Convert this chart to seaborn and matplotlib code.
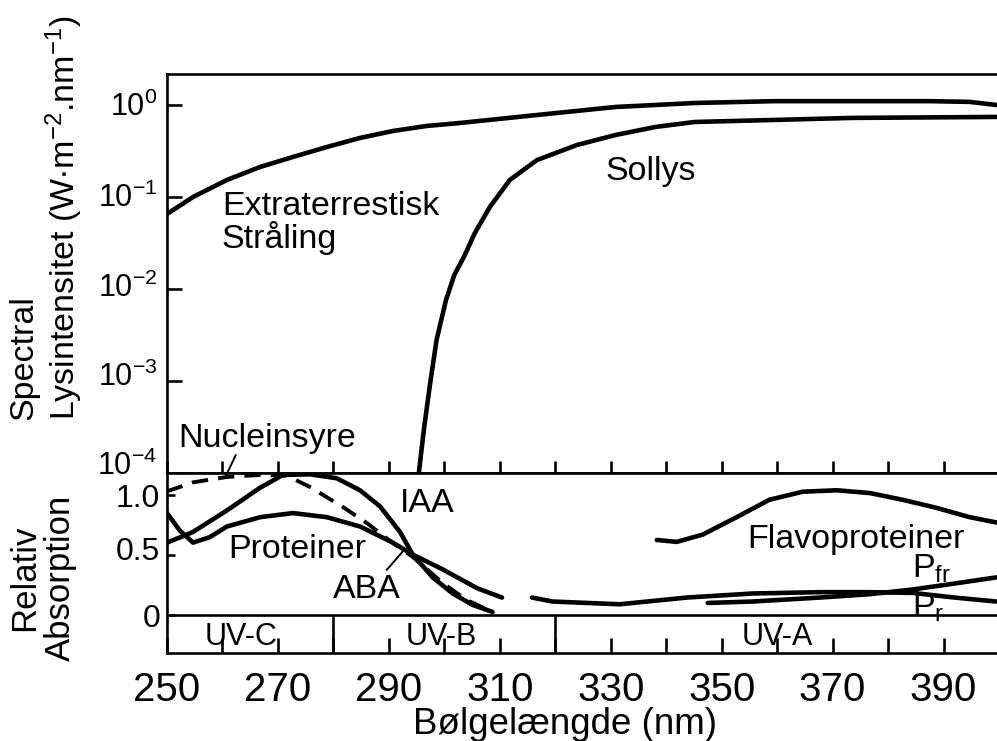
import math
import matplotlib
matplotlib.use("Agg")
import matplotlib.pyplot as plt
from matplotlib import font_manager
from matplotlib.ticker import FixedLocator, FuncFormatter, NullLocator
from matplotlib.transforms import ScaledTranslation
import seaborn as sns
import pandas as pd

# ---------------- data ----------------
EXTRA_NM = [250.0, 254.7, 260.8, 266.8, 272.7, 278.8, 284.8, 290.7, 296.8, 302.8,
            316.7, 330.9, 345.1, 359.4, 373.4, 387.5, 394.7, 399.5]
EXTRA_VAL = [0.0653, 0.100, 0.153, 0.212, 0.272, 0.349, 0.438, 0.521, 0.591, 0.637,
             0.778, 0.951, 1.05, 1.10, 1.10, 1.10, 1.08, 1.0]

SOL_NM = [295.4, 296.3, 297.4, 298.6, 300.3, 301.8, 303.7, 305.5, 308.2, 311.8,
          316.7, 323.9, 330.9, 338.1, 345.1, 359.4, 373.4, 399.5]
SOL_VAL = [1.0e-4, 2.93e-4, 9.05e-4, 2.79e-3, 7.6e-3, 0.0142, 0.0234, 0.0406, 0.0777, 0.153,
           0.252, 0.367, 0.472, 0.577, 0.653, 0.687, 0.723, 0.741]

NUC_NM = [250.0, 254.7, 260.8, 266.8, 271.6, 275.8, 281.7, 286.0, 290.7, 294.3, 299.7, 304.0, 308.7]
NUC_VAL = [1.03, 1.105, 1.15, 1.167, 1.161, 1.066, 0.90, 0.767, 0.60, 0.484, 0.267, 0.125, 0.025]

IAA_NM = [250.0, 253.6, 254.7, 260.8, 266.8, 270.9, 275.8, 280.6, 284.8, 288.4, 292.0,
          294.3, 297.9, 301.5, 305.1, 308.7]
IAA_VAL = [0.603, 0.67, 0.692, 0.871, 1.061, 1.167, 1.172, 1.139, 1.039, 0.905, 0.692,
           0.503, 0.313, 0.179, 0.084, 0.025]

PROT_NM = [250.0, 252.3, 254.7, 257.7, 260.8, 266.8, 272.7, 278.8, 284.8, 290.7,
           294.3, 299.7, 305.9, 310.4]
PROT_VAL = [0.849, 0.704, 0.603, 0.648, 0.737, 0.815, 0.849, 0.815, 0.737, 0.603,
            0.503, 0.38, 0.223, 0.145]

FLAVO_NM = [338.3, 341.9, 346.6, 352.7, 358.6, 364.6, 370.7, 376.7, 382.6, 388.7, 394.7, 399.5]
FLAVO_VAL = [0.625, 0.609, 0.67, 0.815, 0.96, 1.027, 1.039, 1.016, 0.96, 0.893, 0.815, 0.771]

PR_NM = [315.8, 319.5, 331.6, 343.7, 355.6, 367.7, 376.7, 384.4, 392.0, 399.5]
PR_VAL = [0.145, 0.112, 0.089, 0.145, 0.179, 0.19, 0.19, 0.184, 0.145, 0.112]

PFR_NM = [347.5, 355.6, 367.7, 376.7, 384.4, 392.0, 399.5]
PFR_VAL = [0.10, 0.112, 0.145, 0.173, 0.212, 0.262, 0.313]

BANDS = ["UV-C", "UV-B", "UV-A"]
BAND_CENTERS = [263.3, 299.4, 360.0]
BAND_EDGES = [280, 320]

LOG_TICKS = [1e-4, 1e-3, 1e-2, 1e-1, 1e0]
REL_TICKS = [0, 0.5, 1.0]
REL_LABELS = ["0", "0.5", "1.0"]
X_TICKS = list(range(250, 400, 10))
X_LABELED = list(range(250, 400, 20))

# ---------------- style ----------------
sns.set_theme(style="white")
K = "black"
plt.rcParams["font.family"] = ["Liberation Sans", "DejaVu Sans"]
plt.rcParams["mathtext.fontset"] = "custom"
plt.rcParams["mathtext.rm"] = "Liberation Sans"
plt.rcParams["mathtext.it"] = "Liberation Sans:italic"
plt.rcParams["mathtext.default"] = "regular"
plt.rcParams["axes.unicode_minus"] = True
for key in ("text.color", "axes.labelcolor", "xtick.color", "ytick.color", "axes.edgecolor"):
    plt.rcParams[key] = K

try:
    font_manager.findfont(font_manager.FontProperties(family="Liberation Sans Narrow"),
                          fallback_to_default=False)
    NARROW = ["Liberation Sans Narrow", "Liberation Sans"]
except Exception:
    NARROW = ["Liberation Sans"]

LW = 3.3
SPW = 1.9
YMIN_B, YMAX_B = -0.317, 1.183

fig = plt.figure(figsize=(9.97, 7.41), dpi=100)
W, H = 997.0, 741.0
ax_top = fig.add_axes([167 / W, 1 - 473 / H, 832 / W, 399 / H])
ax_bot = fig.add_axes([167 / W, 1 - 653 / H, 832 / W, 180 / H])

for ax in (ax_top, ax_bot):
    ax.set_facecolor("white")
    for s in ("left", "top", "bottom"):
        ax.spines[s].set_visible(True)
        ax.spines[s].set_color(K)
        ax.spines[s].set_linewidth(SPW)
    ax.spines["right"].set_visible(False)
    ax.set_xlim(250, 400)
    ax.grid(False)

# ---------------- top panel ----------------
ax_top.set_yscale("log")
ax_top.set_ylim(1e-4, 2.17)
df_e = pd.DataFrame({"nm": EXTRA_NM, "v": EXTRA_VAL})
df_s = pd.DataFrame({"nm": SOL_NM, "v": SOL_VAL})
sns.lineplot(data=df_e, x="nm", y="v", ax=ax_top, color=K, lw=LW, sort=False, estimator=None)
sns.lineplot(data=df_s, x="nm", y="v", ax=ax_top, color=K, lw=LW, sort=False, estimator=None)
ax_top.yaxis.set_major_locator(FixedLocator(LOG_TICKS))
ax_top.yaxis.set_minor_locator(NullLocator())
ax_top.yaxis.set_major_formatter(FuncFormatter(lambda v, p: r"$10^{%d}$" % round(math.log10(v))))
ax_top.xaxis.set_major_locator(FixedLocator(X_TICKS))
ax_top.xaxis.set_minor_locator(NullLocator())
ax_top.tick_params(axis="y", direction="in", length=11, width=SPW, labelsize=22, pad=7,
                   left=True, colors=K)
ax_top.tick_params(axis="x", direction="in", length=8.5, width=SPW, bottom=True,
                   labelbottom=False, colors=K)
ax_top.set_xlabel("")
ax_top.set_ylabel("")

tk = dict(color=K, fontsize=24.5)
ax_top.text(259.9, 0.0637, "Extraterrestisk", ha="left", va="baseline", **tk)
ax_top.text(259.9, 0.0279, "Stråling", ha="left", va="baseline", **tk)
ax_top.text(329.1, 0.153, "Sollys", ha="left", va="baseline", **tk)
ax_top.text(252.0, 1.92e-4, "Nucleinsyre", ha="left", va="baseline", **tk)

# ---------------- bottom panel ----------------
ax_bot.set_ylim(YMIN_B, YMAX_B)
series = [(NUC_NM, NUC_VAL, (0, (4.2, 2.6))), (IAA_NM, IAA_VAL, "-"), (PROT_NM, PROT_VAL, "-"),
          (FLAVO_NM, FLAVO_VAL, "-"), (PR_NM, PR_VAL, "-"), (PFR_NM, PFR_VAL, "-")]
for xs, ys, ls in series:
    d = pd.DataFrame({"nm": xs, "v": ys})
    sns.lineplot(data=d, x="nm", y="v", ax=ax_bot, color=K, lw=LW if ls == "-" else 2.8,
                 linestyle=ls, sort=False, estimator=None)

ax_bot.axhline(0, color=K, lw=SPW)
ax_bot.vlines(BAND_EDGES, YMIN_B, 0, color=K, lw=SPW)
for name, c in zip(BANDS, BAND_CENTERS):
    ax_bot.text(c, -0.25, name, ha="center", va="baseline", color=K, fontsize=22)

ax_bot.set_yticks(REL_TICKS)
ax_bot.set_yticklabels(REL_LABELS)
ax_bot.xaxis.set_major_locator(FixedLocator(X_TICKS))
ax_bot.xaxis.set_major_formatter(FuncFormatter(lambda v, p: "%d" % v if int(round(v)) in X_LABELED else ""))
ax_bot.tick_params(axis="y", direction="in", length=6, width=SPW, labelsize=23, pad=5,
                   left=True, colors=K)
ax_bot.tick_params(axis="x", direction="in", length=11, width=SPW, bottom=True, pad=13,
                   colors=K)
for lab in ax_bot.get_xticklabels():
    lab.set_fontfamily(NARROW)
    lab.set_fontsize(29)
ax_bot.set_ylabel("")
ax_bot.set_xlabel("Bølgelængde (nm)", fontsize=26.5, color=K)
ax_bot.xaxis.set_label_coords((564 - 167) / 830, -0.30)
ax_bot.xaxis.label.set_va("top")

ax_bot.text(292.0, 0.86, "IAA", ha="left", va="baseline", **tk)
ax_bot.text(261.0, 0.475, "Proteiner", ha="left", va="baseline", **tk)
ax_bot.text(279.9, 0.142, "ABA", ha="left", va="baseline", **tk)
ax_bot.text(354.7, 0.558, "Flavoproteiner", ha="left", va="baseline", **tk)
ax_bot.text(384.4, 0.308, r"P$_{fr}$", ha="left", va="baseline", **tk)
ax_bot.text(384.4, -0.017, r"P$_{r}$", ha="left", va="baseline", **tk)

# leader lines
ax_bot.plot([262.4, 260.6], [1.333, 1.158], color=K, lw=1.4, clip_on=False)
ax_bot.plot([289.6, 292.9], [0.375, 0.55], color=K, lw=1.4, clip_on=False)

# ---------------- y labels ----------------
fig.text(8 / W, 1 - 420 / H, "Spectral\nLysintensitet (W$\\cdot$m$^{-2}$.nm$^{-1}$)",
         rotation=90, ha="left", va="bottom", multialignment="left", fontsize=24.5,
         color=K, linespacing=1.15)
fig.text(8 / W, 1 - 578 / H, "Relativ\nAbsorption", rotation=90, ha="left", va="center",
         multialignment="center", fontsize=25, color=K, linespacing=1.1)

# small vertical nudges of tick labels as placed in the reference (pixels, up = +)
fig.canvas.draw()
TOP_SHIFT = [10, 7, 4, 2, 1]
for tick, dy in zip(ax_top.yaxis.get_major_ticks(), TOP_SHIFT):
    tick.label1.set_transform(tick.label1.get_transform()
                              + ScaledTranslation(0, dy / 100.0, fig.dpi_scale_trans))
BOT_SHIFT = [-1, 6, -1]
for tick, dy in zip(ax_bot.yaxis.get_major_ticks(), BOT_SHIFT):
    tick.label1.set_transform(tick.label1.get_transform()
                              + ScaledTranslation(0, dy / 100.0, fig.dpi_scale_trans))

fig.savefig("out.png", dpi=100, facecolor="white")
